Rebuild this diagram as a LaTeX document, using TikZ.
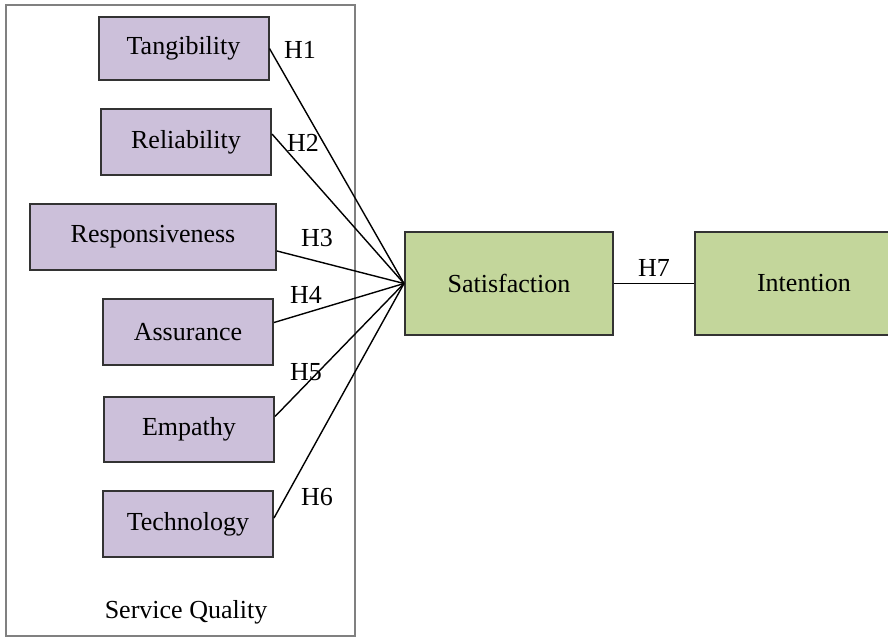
\documentclass[tikz,border=0pt]{standalone}
\usepackage{fontspec}
\setmainfont{Liberation Serif}
\usetikzlibrary{positioning}

\definecolor{dimfill}{RGB}{204,192,218}
\definecolor{outfill}{RGB}{195,214,155}

\begin{document}
\begin{tikzpicture}[
    x=0.5pt, y=-0.5pt,
    node distance=13.5pt,
    font=\fontsize{13}{15}\selectfont,
    dim/.style={rectangle, draw=black!80, line width=1pt, fill=dimfill, minimum width=85pt, minimum height=33pt, inner sep=0pt},
    outcome/.style={rectangle, draw=black!80, line width=1pt, fill=outfill, minimum width=104pt, minimum height=51.5pt, inner sep=0pt},
    hyp/.style={inner sep=1pt},
    link/.style={line width=0.7pt},
    group/.style={draw=black!50, line width=0.6pt},
]
\useasboundingbox (0,0) rectangle (888,637);

%% SERVICE QUALITY
    \draw[group] (6,5) rectangle (355,636);
    \node (quality) at (186,612) {Service Quality};

    \node[dim, minimum height=31.5pt] (tangibility) at (183.5,48.5) {Tangibility};
    \node[dim, below=of tangibility,              xshift=1.25pt] (reliability) {Reliability};
    \node[dim, below=of reliability,              xshift=-16.5pt, minimum width=123pt] (responsiveness) {Responsiveness};
    \node[dim, below=of responsiveness,           xshift=17.5pt] (assurance) {Assurance};
    \node[dim, below=15pt of assurance,           xshift=0.5pt, minimum height=32.5pt] (empathy) {Empathy};
    \node[dim, below=of empathy,                  xshift=-0.5pt] (technology) {Technology};

%% OUTCOMES
    \node[outcome] (satisfaction) at (509,283.5) {Satisfaction};
    \node[outcome, right=40pt of satisfaction, minimum width=109pt] (intention) {Intention};

%% HYPOTHESES
    \draw[link] (tangibility.east) -- (satisfaction.west);
    \draw[link] ([yshift=4pt]reliability.east) -- (satisfaction.west);
    \draw[link] ([yshift=-7pt]responsiveness.east) -- (satisfaction.west);
    \draw[link] ([yshift=4.75pt]assurance.east) -- (satisfaction.west);
    \draw[link] ([yshift=6.5pt]empathy.east) -- (satisfaction.west);
    \draw[link] ([yshift=3pt]technology.east) -- (satisfaction.west);
    \draw[link] (satisfaction.east) -- node[above, hyp, yshift=2pt] (h7) {H7} (intention.west);

    \node[hyp] (h1) at (300,50) {H1};
    \node[hyp] (h2) at (303,143) {H2};
    \node[hyp] (h3) at (317,238) {H3};
    \node[hyp] (h4) at (306,295) {H4};
    \node[hyp] (h5) at (306,372) {H5};
    \node[hyp] (h6) at (317,497) {H6};

\end{tikzpicture}
\end{document}
